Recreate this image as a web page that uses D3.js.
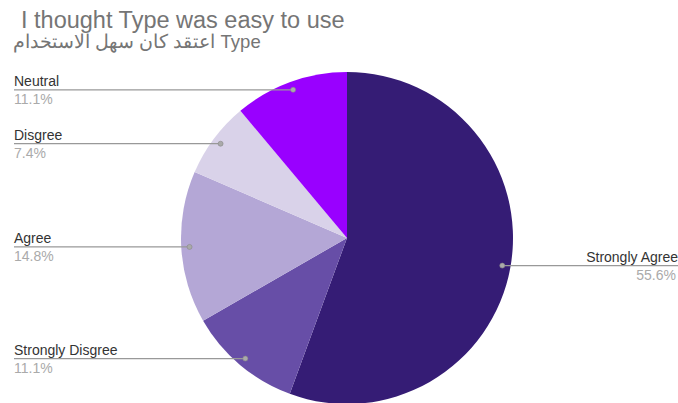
<!DOCTYPE html>
<html lang="en">
  <head>
    <meta charset="utf-8">
    <title>Type pie</title>
    <script type="text/javascript" src="https://cdn.jsdelivr.net/npm/d3@7"></script>
    <style>
      body { margin: 0; background: #fff; }
    </style>
  </head>
  <body>
    <script type="text/javascript">

      var w = 678;
      var h = 403;

      // answers, clockwise from 12 o'clock
      var categories = ["Strongly Agree", "Strongly Disgree", "Agree", "Disgree", "Neutral"];
      var percents = [55.6, 11.1, 14.8, 7.4, 11.1];
      var colors = ["#351c75", "#674ea7", "#b4a7d6", "#d9d2e9", "#9900ff"];

      var titleLine1 = "I thought Type was easy to use";
      var titleLine2 = "اعتقد كان سهل الاستخدام Type";

      var cx = 347, cy = 238, radius = 166;

      var data = [];
      for (var i = 0; i < categories.length; i++) {
        data.push({ name: categories[i], value: percents[i], color: colors[i] });
      }

      var svg = d3.select("body")
                  .append("svg")
                  .attr("width", w)
                  .attr("height", h)
                  .style("font-family", "'Liberation Sans', Arial, sans-serif");

      // title
      svg.append("text")
         .attr("x", 21)
         .attr("y", 28)
         .attr("font-size", "23.5px")
         .attr("fill", "#757575")
         .text(titleLine1);

      svg.append("text")
         .attr("x", 13)
         .attr("y", 48)
         .attr("font-size", "18.5px")
         .attr("fill", "#757575")
         .text(titleLine2);

      var pie = d3.pie()
                  .sort(null)
                  .value(function(d) { return d.value; });

      var arc = d3.arc()
                  .innerRadius(0)
                  .outerRadius(radius);

      var dotArc = d3.arc()
                     .innerRadius(radius * 0.95)
                     .outerRadius(radius * 0.95);

      var g = svg.append("g")
                 .attr("transform", "translate(" + cx + "," + cy + ")");

      var arcs = pie(data);

      g.selectAll("path")
       .data(arcs)
       .enter()
       .append("path")
       .attr("d", arc)
       .attr("fill", function(d) { return d.data.color; });

      // leader lines + labels
      var fmt = function(v) { return d3.format(".1f")(v) + "%"; };

      arcs.forEach(function(d) {
        var c = dotArc.centroid(d);
        var px = cx + c[0];
        var py = cy + c[1];
        var right = c[0] > 0;

        svg.append("line")
           .attr("x1", right ? w : 14)
           .attr("x2", px)
           .attr("y1", py)
           .attr("y2", py)
           .attr("stroke", "#999")
           .attr("stroke-width", 1.2);

        svg.append("circle")
           .attr("cx", px)
           .attr("cy", py)
           .attr("r", 2.5)
           .attr("fill", "#aaa")
           .attr("stroke", "#888")
           .attr("stroke-width", 0.6);

        svg.append("text")
           .attr("x", right ? w : 14)
           .attr("y", py - 3.5)
           .attr("text-anchor", right ? "end" : "start")
           .attr("font-size", "14px")
           .attr("fill", "#333")
           .text(d.data.name);

        svg.append("text")
           .attr("x", right ? w - 2 : 14)
           .attr("y", py + 14)
           .attr("text-anchor", right ? "end" : "start")
           .attr("font-size", "14px")
           .attr("fill", "#aaa")
           .text(fmt(d.data.value));
      });

    </script>
  </body>
</html>
